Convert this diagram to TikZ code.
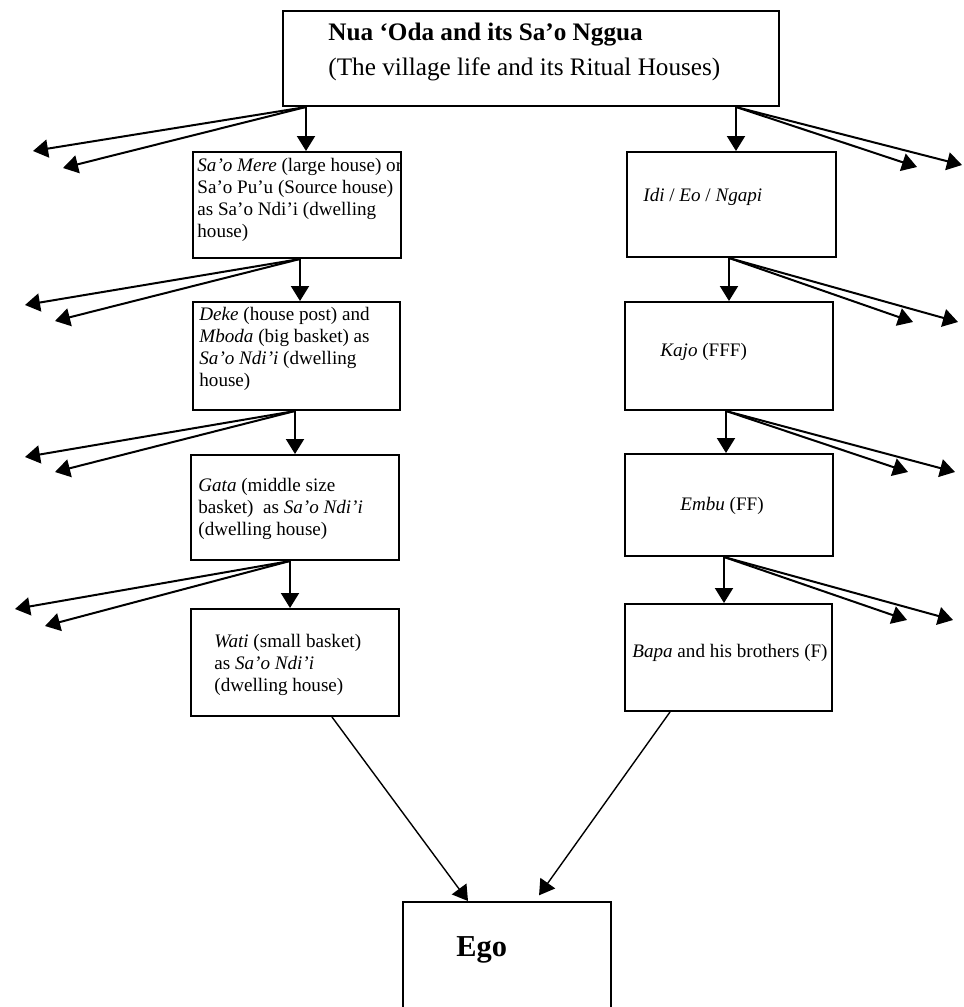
\documentclass[tikz,border=0pt]{standalone}
\usepackage{fontspec}
\setmainfont{Liberation Serif}
\usetikzlibrary{arrows.meta,calc}
\begin{document}
\begin{tikzpicture}[x=0.5pt,y=-0.5pt,
  box/.style={draw,line width=1pt,inner sep=0pt},
  txt/.style={anchor=west,align=left,inner sep=0pt,font=\fontsize{9.55}{11}\selectfont},
  arr/.style={line width=1pt,-{Triangle[length=7.5pt,width=9pt]}},
  thinarr/.style={line width=0.7pt,-{Triangle[length=7.5pt,width=9pt]}}]
\useasboundingbox (0,0) rectangle (964,1007);

% boxes
\node[box,minimum width=248pt,minimum height=47.5pt] (top) at (531,58.5) {};
\node[box,minimum width=104pt,minimum height=53pt] (L1) at (297,205) {};
\node[box,minimum width=103.5pt,minimum height=54pt] (L2) at (296.5,356) {};
\node[box,minimum width=104pt,minimum height=52.5pt] (L3) at (295,507.5) {};
\node[box,minimum width=104pt,minimum height=53.5pt] (L4) at (295,662.5) {};
\node[box,minimum width=104.5pt,minimum height=52.5pt] (R1) at (731.5,204.5) {};
\node[box,minimum width=104pt,minimum height=54pt] (R2) at (729,356) {};
\node[box,minimum width=104pt,minimum height=51pt] (R3) at (729,505) {};
\node[box,minimum width=103.5pt,minimum height=53.5pt] (R4) at (728.5,657.5) {};
\node[box,minimum width=104pt,minimum height=59pt] (ego) at (507,961) {};

% texts
\node[anchor=west,align=left,inner sep=0pt,font=\fontsize{12.6}{17.5}\selectfont] (title) at (328,52)
  {\textbf{Nua `Oda and its Sa'o Nggua}\\(The village life and its Ritual Houses)};
\node[txt] (L1t) at (197,200) {\textit{Sa'o Mere} (large house) or\\Sa'o Pu'u (Source house)\\as Sa'o Ndi'i (dwelling\\house)};
\node[txt] (L2t) at (199,348.5) {\textit{Deke} (house post) and\\\textit{Mboda} (big basket) as\\\textit{Sa'o Ndi'i} (dwelling\\house)};
\node[txt] (L3t) at (198,508.5) {\textit{Gata} (middle size\\basket)\ \ as \textit{Sa'o Ndi'i}\\(dwelling house)};
\node[txt] (L4t) at (214,665) {\textit{Wati} (small basket)\\as \textit{Sa'o Ndi'i}\\(dwelling house)};
\node[txt] (R1t) at (643,197) {\textit{Idi} / \textit{Eo} / \textit{Ngapi}};
\node[txt] (R2t) at (660,352) {\textit{Kajo} (FFF)};
\node[txt] (R3t) at (680,506) {\textit{Embu} (FF)};
\node[txt] (R4t) at (632,653) {\textit{Bapa} and his brothers (F)};
\node[anchor=west,inner sep=0pt,font=\fontsize{15.2}{18}\selectfont\bfseries] (egot) at (456,950) {Ego};

% x positions of the vertical connectors
\coordinate (xa) at (306,0);
\coordinate (xb) at (300,0);
\coordinate (xc) at (295,0);
\coordinate (xd) at (290,0);
\coordinate (xe) at (736,0);
\coordinate (xf) at (729,0);
\coordinate (xg) at (726,0);
\coordinate (xh) at (724,0);
\coordinate (xl) at (332,0);
\coordinate (xm) at (468,0);
\coordinate (xr) at (670,0);
\coordinate (xs) at (535,0);

% free ends of the fans
\coordinate (ta1) at (33,151);  \coordinate (ta2) at (63,168);
\coordinate (tb1) at (25,305);  \coordinate (tb2) at (55,321);
\coordinate (tc1) at (25,457);  \coordinate (tc2) at (55,472);
\coordinate (td1) at (15,609);  \coordinate (td2) at (45,626);
\coordinate (te1) at (917,167); \coordinate (te2) at (962,165);
\coordinate (tf1) at (913,322); \coordinate (tf2) at (958,322);
\coordinate (tg1) at (908,472); \coordinate (tg2) at (955,472);
\coordinate (th1) at (907,620); \coordinate (th2) at (953,620);

% left column
\draw[arr] (top.south -| xa) -- (L1.north -| xa);
\draw[arr] (top.south -| xa) -- (ta1);
\draw[arr] (top.south -| xa) -- (ta2);
\draw[arr] (L1.south -| xb) -- (L2.north -| xb);
\draw[arr] (L1.south -| xb) -- (tb1);
\draw[arr] (L1.south -| xb) -- (tb2);
\draw[arr] (L2.south -| xc) -- (L3.north -| xc);
\draw[arr] (L2.south -| xc) -- (tc1);
\draw[arr] (L2.south -| xc) -- (tc2);
\draw[arr] (L3.south -| xd) -- (L4.north -| xd);
\draw[arr] (L3.south -| xd) -- (td1);
\draw[arr] (L3.south -| xd) -- (td2);
\draw[thinarr] (L4.south -| xl) -- (ego.north -| xm);

% right column
\draw[arr] (top.south -| xe) -- (R1.north -| xe);
\draw[arr] (top.south -| xe) -- (te1);
\draw[arr] (top.south -| xe) -- (te2);
\draw[arr] (R1.south -| xf) -- (R2.north -| xf);
\draw[arr] (R1.south -| xf) -- (tf1);
\draw[arr] (R1.south -| xf) -- (tf2);
\draw[arr] (R2.south -| xg) -- (R3.north -| xg);
\draw[arr] (R2.south -| xg) -- (tg1);
\draw[arr] (R2.south -| xg) -- (tg2);
\draw[arr] (R3.south -| xh) -- (R4.north -| xh);
\draw[arr] (R3.south -| xh) -- (th1);
\draw[arr] (R3.south -| xh) -- (th2);
\draw[thinarr,shorten >=3.5pt] (R4.south -| xr) -- (ego.north -| xs);
\end{tikzpicture}
\end{document}
